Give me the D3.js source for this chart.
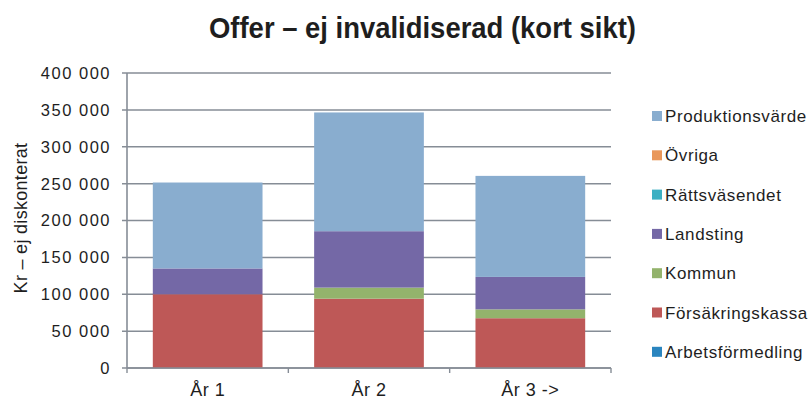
<!DOCTYPE html>
<html>
<head>
<meta charset="utf-8">
<script src="https://cdn.jsdelivr.net/npm/d3@7"></script>
<style>
  body { margin: 0; background: #fff; }
  svg text { font-family: "Liberation Sans", Arial, sans-serif; fill: #1e1e1e; }
  .title { font-weight: bold; }
</style>
</head>
<body>
<svg class="chart"></svg>
<script>
const categories = ["År 1", "År 2", "År 3 ->"]

// stacked bottom -> top
const seriesNames = ["Arbetsförmedling", "Försäkringskassa", "Kommun", "Landsting", "Rättsväsendet", "Övriga", "Produktionsvärde"]
const arbetsformedling = [0, 0, 0]
const forsakringskassa = [100000, 94000, 67500]
const kommun = [0, 15000, 12000]
const landsting = [35000, 76500, 44000]
const rattsvasendet = [0, 0, 0]
const ovriga = [0, 0, 0]
const produktionsvarde = [116500, 161000, 137000]

const yTicks = [0, 50000, 100000, 150000, 200000, 250000, 300000, 350000, 400000]

const colors = {
	"Arbetsförmedling": "#2a85bf",
	"Försäkringskassa": "#be5857",
	"Kommun": "#93b36c",
	"Landsting": "#7468a6",
	"Rättsväsendet": "#3cb0c3",
	"Övriga": "#e9975a",
	"Produktionsvärde": "#89adcf"
}

const values = [arbetsformedling, forsakringskassa, kommun, landsting, rattsvasendet, ovriga, produktionsvarde]
const table = categories.map((c, i) => {
	const row = { cat: c }
	seriesNames.forEach((s, j) => { row[s] = values[j][i] })
	return row
})

const W = 811, H = 404
const margin = { top: 73, left: 127, right: 200, bottom: 36 }
const width = W - margin.left - margin.right,
			height = H - margin.top - margin.bottom

const svg = d3.select(".chart").attr("width", W).attr("height", H)
const g = svg.append("g").attr("transform", `translate(${margin.left},${margin.top})`)

const x = d3.scaleBand().domain(categories).range([0, width]).paddingInner(0.32).paddingOuter(0.16)
const y = d3.scaleLinear().domain([0, 400000]).range([height, 0])
const fmt = v => d3.format(",")(v).replace(/,/g, " ")

// gridlines
g.append("g").selectAll("line").data(yTicks).enter().append("line")
	.attr("x1", -5).attr("x2", width)
	.attr("y1", d => y(d)).attr("y2", d => y(d))
	.attr("stroke", "#868d96").attr("stroke-width", 1.5)

const stack = d3.stack().keys(seriesNames)(table)

g.append("g").selectAll("g").data(stack).enter().append("g")
		.attr("fill", d => colors[d.key])
	.selectAll("rect").data(d => d).enter().append("rect")
		.attr("x", d => x(d.data.cat))
		.attr("width", x.bandwidth())
		.attr("y", d => y(d[1]))
		.attr("height", d => y(d[0]) - y(d[1]))

// y axis
g.append("line").attr("x1", 0).attr("x2", 0).attr("y1", 0).attr("y2", height)
	.attr("stroke", "#868d96").attr("stroke-width", 1.6)
g.append("g").selectAll("text").data(yTicks).enter().append("text")
	.attr("x", -16).attr("y", d => y(d)).attr("dy", "0.36em")
	.attr("text-anchor", "end").style("font-size", "16.5px").style("letter-spacing", "1.5px")
	.text(fmt)

// x axis
const xa = g.append("g").attr("transform", `translate(0,${height})`)
xa.append("line").attr("x1", 0).attr("x2", width).attr("stroke", "#868d96").attr("stroke-width", 1.6)
const step = width / categories.length
xa.selectAll(".tk").data(d3.range(categories.length + 1)).enter().append("line")
	.attr("x1", d => d * step).attr("x2", d => d * step).attr("y1", 0).attr("y2", 5)
	.attr("stroke", "#868d96").attr("stroke-width", 1.4)
xa.selectAll(".lbl").data(categories).enter().append("text")
	.attr("x", d => x(d) + x.bandwidth() / 2).attr("y", 28)
	.attr("text-anchor", "middle").style("font-size", "18px").style("letter-spacing", "0.5px")
	.text(d => d)

// y title
svg.append("text")
	.attr("transform", "translate(27,218) rotate(-90)")
	.attr("text-anchor", "middle").style("font-size", "18px").style("letter-spacing", "0.3px")
	.text("Kr – ej diskonterat")

// title
svg.append("text").attr("class", "title")
	.attr("x", 209).attr("y", 38)
	.attr("textLength", 427).attr("lengthAdjust", "spacingAndGlyphs")
	.style("font-size", "30px")
	.text("Offer – ej invalidiserad (kort sikt)")

// legend
const legend = svg.append("g").attr("transform", "translate(652,116)")
	.selectAll("g").data(seriesNames.slice().reverse()).enter().append("g")
		.attr("transform", (d, i) => `translate(0,${i * 39.3})`)
legend.append("rect").attr("x", 0).attr("y", -5).attr("width", 10).attr("height", 10)
	.attr("fill", d => colors[d])
legend.append("text").attr("x", 13).attr("dy", "0.36em")
	.style("font-size", "17px").style("letter-spacing", "0.6px")
	.text(d => d)
</script>
</body>
</html>
